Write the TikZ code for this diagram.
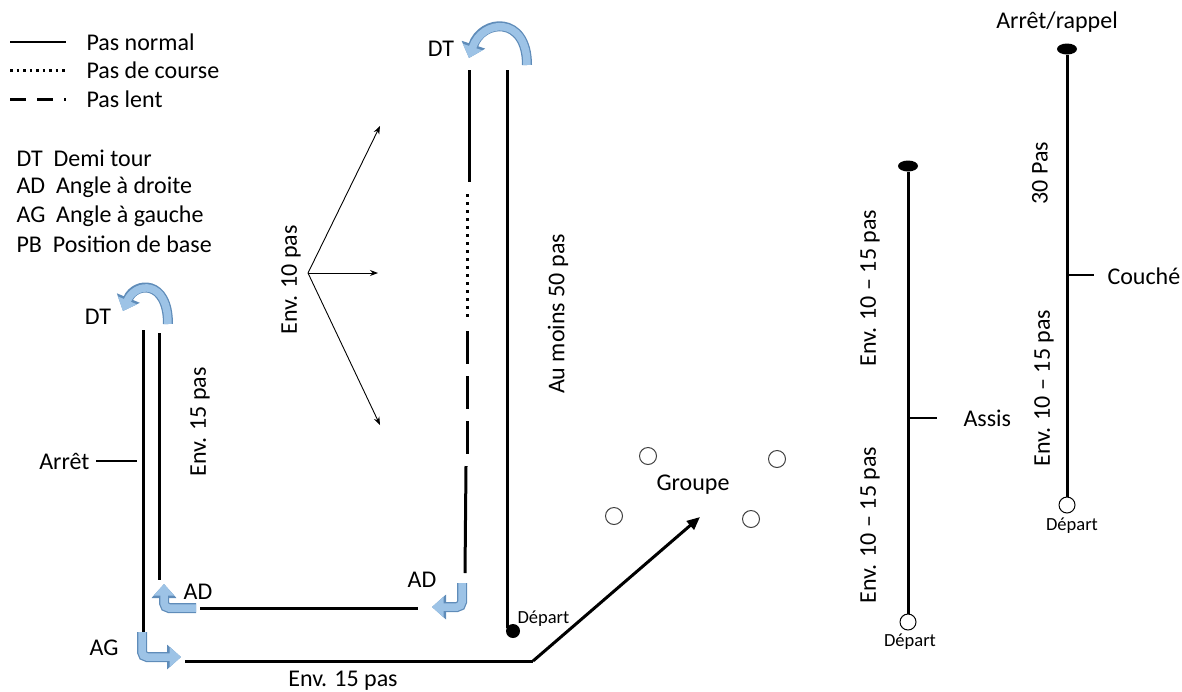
\documentclass[tikz,border=0pt]{standalone}
\usepackage{fontspec}
\setmainfont{Carlito}
\usetikzlibrary{arrows.meta,shapes.geometric}
\definecolor{turnfill}{RGB}{157,195,230}
\definecolor{turnedge}{RGB}{95,140,185}
\tikzset{
  walk/.style={line width=3pt},
  run/.style={line width=3pt,dash pattern=on 3pt off 5pt},
  slow/.style={line width=3pt,dash pattern=on 33pt off 12pt},
  tick/.style={line width=2pt},
  fan/.style={line width=0.9pt,-{Stealth[length=8pt,width=6pt]}},
  turnout/.style={line width=10pt,draw=turnedge,-{Triangle[length=14pt,width=24pt]}},
  turnin/.style={line width=7.5pt,draw=turnfill,-{Triangle[length=11.5pt,width=20pt]}},
  small/.style={font=\fontsize{18.5}{22}\selectfont},
  spot/.style={circle,draw=black!75,line width=1pt,minimum size=17pt,inner sep=0pt}
}
\begin{document}
\begin{tikzpicture}[x=1pt,y=-1pt,font=\fontsize{24}{28}\selectfont]
\useasboundingbox (0,0) rectangle (1182,691);
% legend
\coordinate (k1) at (10,42);  \coordinate (k2) at (66,42);
\coordinate (k3) at (10,70);  \coordinate (k4) at (66,70);
\coordinate (k5) at (10,99);  \coordinate (k6) at (66,99);
\draw[line width=2pt] (k1) -- (k2);
\draw[line width=3pt,dash pattern=on 2.5pt off 4pt] (k3) -- (k4);
\draw[line width=3pt,dash pattern=on 16pt off 11pt] (k5) -- (k6);
\node[anchor=west] (p1) at (83,42) {Pas normal};
\node[anchor=west] (p2) at (83,70) {Pas de course};
\node[anchor=west] (p3) at (83,99) {Pas lent};
\node[anchor=west] (d1) at (13,158) {DT\ \ Demi tour};
\node[anchor=west] (d2) at (13,187) {AD\ \ Angle à droite};
\node[anchor=west] (d3) at (13,216) {AG\ \ Angle à gauche};
\node[anchor=west] (d4) at (13,244) {PB\ \ Position de base};
%
% left loop
\coordinate (a1) at (143,330); \coordinate (a2) at (143,634);
\coordinate (b1) at (159,333); \coordinate (b2) at (159,580);
\coordinate (c1) at (200,608); \coordinate (c2) at (418,608);
\coordinate (e1) at (185,661); \coordinate (e2) at (533,661);
\coordinate (g1) at (700,517);
\coordinate (s1) at (96,461);  \coordinate (s2) at (137,461);
\foreach \Source/\Target in {a1/a2, b1/b2, c1/c2, e1/e2}
\draw[walk] (\Source) to (\Target);
\draw[walk,-{Triangle[length=13pt,width=11pt]}] (e2) -- (g1);
\draw[tick] (s1) -- (s2);
\node[anchor=east] (stop) at (93,461) {Arrêt};
\node (dtl) at (98,317) {DT};
\node (adl) at (198,592) {AD};
\node (ag) at (104,648) {AG};
\node[rotate=90] (n15) at (200,422) {Env. 15 pas};
\node (m15) at (343,681) {Env. 15 pas};
%
% middle loop
\coordinate (h1) at (469,70);  \coordinate (h2) at (469,182);
\coordinate (h3) at (467,194); \coordinate (h4) at (467,320);
\coordinate (h5) at (467,331); \coordinate (h6) at (467,455);
\coordinate (h7) at (466,466); \coordinate (h8) at (465,573);
\coordinate (r1) at (507,70);  \coordinate (r2) at (507,628);
\draw[walk] (h1) -- (h2);
\draw[run] (h3) -- (h4);
\draw[slow] (h5) -- (h6);
\draw[walk] (h7) -- (h8);
\draw[walk] (r1) -- (r2);
\node[circle,fill,inner sep=0pt,minimum size=14pt] (start) at (513,631) {};
\node[small,anchor=west] (dep) at (514,619) {Départ};
\node (dtm) at (441,49) {DT};
\node (adm) at (422,580) {AD};
\node[rotate=90] (n50) at (558,314) {Au moins 50 pas};
%
% fan
\coordinate (f0) at (308,273);
\coordinate (f1) at (380,126); \coordinate (f2) at (378,273); \coordinate (f3) at (380,425);
\foreach \Target in {f1,f2,f3}
\draw[fan] (f0) -- (\Target);
\node[rotate=90] (n10) at (291,280) {Env. 10 pas};
%
% turns
\foreach \Style in {turnout,turnin}{
\draw[\Style] (168,324) .. controls (168,279) and (135,282) .. (123,311);
\draw[\Style] (527,65) .. controls (527,15) and (482,19) .. (469,58);
\draw[\Style,rounded corners=5pt] (196,608) -- (164,608) -- (164,584);
\draw[\Style,rounded corners=5pt] (142,632) -- (142,657) -- (181,657);
\draw[\Style,rounded corners=5pt] (462,583) -- (462,607) -- (432,607);
}
%
% group
\node[spot] (o1) at (648,456) {};
\node[spot] (o2) at (777,459) {};
\node[spot] (o3) at (614,516) {};
\node[spot] (o4) at (751,519) {};
\node (grp) at (693,485) {Groupe};
%
% sit
\node[ellipse,fill,inner sep=0pt,minimum width=20pt,minimum height=11pt] (top1) at (908,166) {};
\node[spot,draw=black,minimum size=16pt] (low1) at (908,622) {};
\draw[walk] (top1) -- (low1);
\coordinate (t1) at (909,418); \coordinate (t2) at (937,418);
\draw[tick] (t1) -- (t2);
\node[anchor=west] (sit) at (960,418) {Assis};
\node[small] (dep1) at (910,642) {Départ};
\node[rotate=90] (u1) at (870,288) {Env. 10 -- 15 pas};
\node[rotate=90] (u2) at (870,525) {Env. 10 -- 15 pas};
%
% down
\node[ellipse,fill,inner sep=0pt,minimum width=20pt,minimum height=11pt] (top2) at (1067,49) {};
\node[spot,draw=black,minimum size=16pt] (low2) at (1067,505) {};
\draw[walk] (top2) -- (low2);
\coordinate (t3) at (1067,275); \coordinate (t4) at (1094,275);
\draw[tick] (t3) -- (t4);
\node[anchor=west] (down) at (1104,276) {Couché};
\node (call) at (1057,22) {Arrêt/rappel};
\node[small] (dep2) at (1072,526) {Départ};
\node[rotate=90] (u3) at (1040,173) {30 Pas};
\node[rotate=90] (u4) at (1044,388) {Env. 10 -- 15 pas};
\end{tikzpicture}
\end{document}
